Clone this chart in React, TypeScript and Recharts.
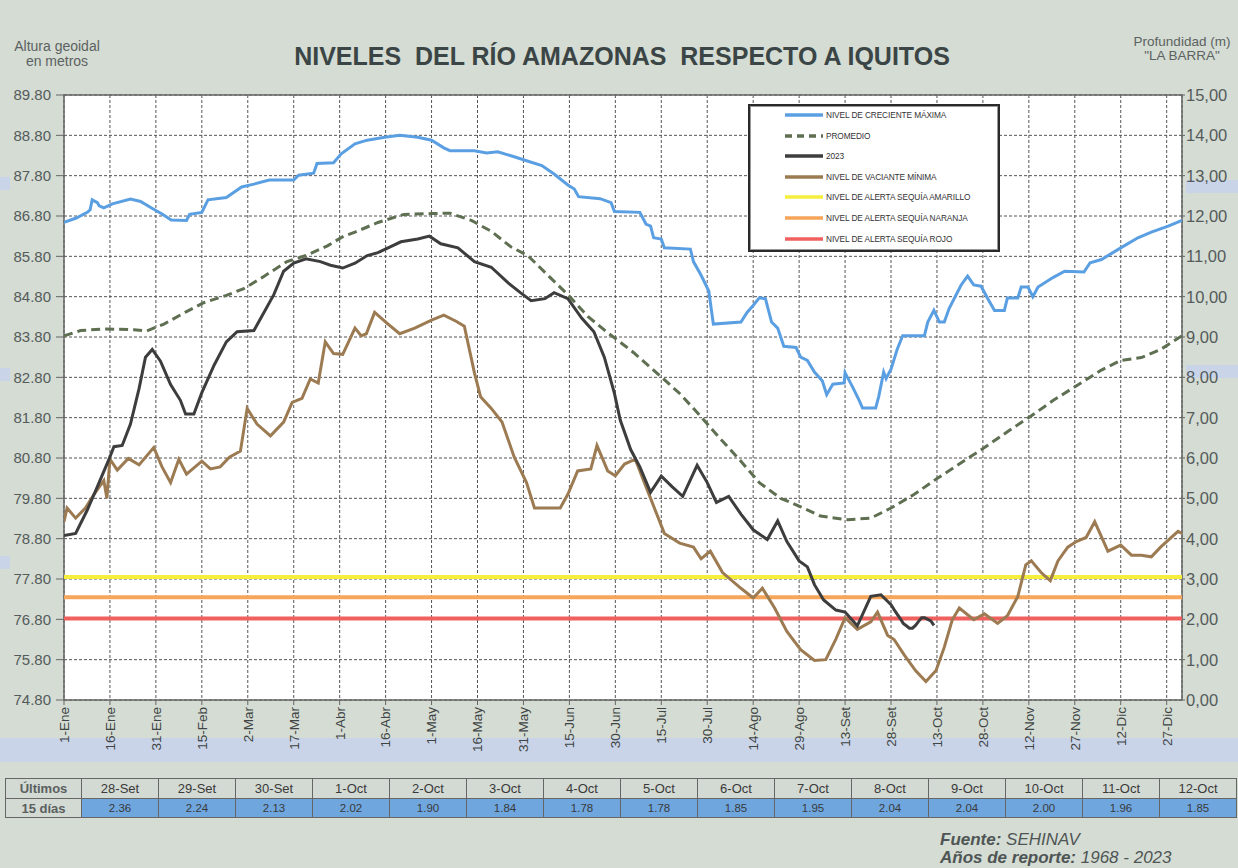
import React from 'react';
import { LineChart, Line, XAxis, YAxis, CartesianGrid, ReferenceLine, ReferenceArea, Legend } from 'recharts';

const FONT = '"Liberation Sans", Arial, Helvetica, sans-serif';

// ---------- axis ticks ----------
const xTickDays = [0, 15, 30, 45, 60, 75, 90, 105, 120, 135, 150, 165, 180, 195, 210, 225, 240, 255, 270, 285, 300, 315, 330, 345, 360];
const xTickLabels = ['1-Ene', '16-Ene', '31-Ene', '15-Feb', '2-Mar', '17-Mar', '1-Abr', '16-Abr', '1-May', '16-May', '31-May', '15-Jun', '30-Jun', '15-Jul', '30-Jul', '14-Ago', '29-Ago', '13-Set', '28-Set', '13-Oct', '28-Oct', '12-Nov', '27-Nov', '12-Dic', '27-Dic'];
const leftTicks = [74.8, 75.8, 76.8, 77.8, 78.8, 79.8, 80.8, 81.8, 82.8, 83.8, 84.8, 85.8, 86.8, 87.8, 88.8, 89.8];
const rightTicks = [0, 1, 2, 3, 4, 5, 6, 7, 8, 9, 10, 11, 12, 13, 14, 15];

// ---------- series (day of year, level in m) ----------
const crecienteMaxima: [number, number][] = [
  [0, 86.64], [4, 86.75], [7.6, 86.89], [8.5, 86.95], [9.2, 87.2], [10.9, 87.13], [11.5, 87.05], [13, 87.0], [15.8, 87.1],
  [21.7, 87.22], [25, 87.16], [29, 86.98], [32, 86.85], [35, 86.7], [40, 86.69], [41, 86.84], [45, 86.89], [47, 87.2],
  [53, 87.26], [58, 87.52], [62, 87.59], [67, 87.69], [75, 87.69], [76.6, 87.81], [81.5, 87.86], [82.6, 88.1], [88, 88.12],
  [90.5, 88.34], [95, 88.59], [99, 88.68], [104.7, 88.75], [109.6, 88.8], [115.5, 88.75], [120, 88.68], [124, 88.49],
  [126, 88.42], [134, 88.42], [138, 88.36], [141.6, 88.39], [147, 88.27], [151, 88.17], [156, 88.05], [160, 87.84],
  [164.5, 87.57], [166.6, 87.47], [168, 87.28], [175, 87.23], [178.6, 87.13], [179.7, 86.91], [188, 86.89], [190, 86.6],
  [191.5, 86.55], [192.5, 86.26], [195, 86.23], [196, 86.01], [204.5, 85.98], [205.5, 85.67], [208, 85.33], [210.5, 84.94],
  [212, 84.12], [221, 84.17], [223, 84.41], [225, 84.58], [227, 84.77], [229, 84.75], [231, 84.17], [233, 84.02],
  [235, 83.57], [239, 83.54], [240.5, 83.3], [242.7, 83.22], [245, 82.93], [247.6, 82.71], [249, 82.37], [251, 82.63],
  [254.7, 82.66], [255, 82.91], [257.4, 82.57], [259.6, 82.23], [260.7, 82.04], [265, 82.04], [266, 82.33], [267.6, 82.93],
  [268.4, 82.77], [270, 83.0], [272, 83.49], [273.8, 83.83], [280.9, 83.83], [282, 84.17], [284, 84.46], [285.8, 84.17],
  [287.4, 84.17], [289, 84.51], [292.9, 85.09], [295, 85.31], [297, 85.09], [299.4, 85.06], [301.6, 84.75], [303.8, 84.46],
  [307, 84.46], [308, 84.77], [311.4, 84.77], [312.5, 85.04], [314.7, 85.04], [316.3, 84.8], [318, 85.04], [323, 85.28],
  [326.7, 85.43], [333, 85.41], [335, 85.64], [338.7, 85.72], [345, 86.01], [350.6, 86.26], [355, 86.4], [360.5, 86.55],
  [365, 86.69],
];

const promedio: [number, number][] = [
  [0, 83.83], [5.4, 83.96], [13, 84.0], [22.8, 83.98], [27, 83.95], [32.6, 84.12], [40, 84.43], [45.6, 84.65], [53, 84.83],
  [58.7, 85.0], [65, 85.29], [72.8, 85.67], [79, 85.82], [86, 86.06], [91.3, 86.3], [95, 86.4], [102.5, 86.64], [111, 86.84],
  [120, 86.86], [126, 86.87], [133, 86.69], [139.5, 86.42], [146, 86.03], [151.4, 85.82], [158, 85.33], [164.5, 84.85],
  [171, 84.31], [177.6, 83.9], [183, 83.59], [186, 83.41], [194.7, 82.83], [201, 82.4], [207.8, 81.84], [214, 81.3],
  [221, 80.72], [227, 80.19], [234, 79.8], [240.5, 79.59], [247, 79.36], [255.8, 79.27], [263.4, 79.31], [270, 79.56],
  [277.6, 79.9], [285, 80.29], [292.9, 80.68], [300.5, 81.06], [308, 81.45], [315.7, 81.84], [323, 82.23], [332, 82.66],
  [338.7, 82.98], [345, 83.22], [351.7, 83.29], [358, 83.49], [365, 83.83],
];

const nivel2023: [number, number][] = [
  [0, 78.88], [3.8, 78.93], [7.6, 79.51], [10.9, 80.09], [14.7, 80.77], [16.3, 81.08], [19, 81.11], [21.7, 81.64],
  [24.5, 82.52], [26.6, 83.3], [28.8, 83.49], [31.5, 83.2], [34.8, 82.62], [38, 82.23], [39.7, 81.89], [42.4, 81.89],
  [45, 82.42], [49, 83.1], [53, 83.68], [56.5, 83.93], [62, 83.96], [65, 84.37], [68.5, 84.85], [71.7, 85.43], [75, 85.63],
  [79, 85.74], [83.7, 85.67], [87, 85.58], [91, 85.51], [95, 85.63], [99, 85.82], [102.5, 85.89], [105.8, 86.01],
  [110, 86.16], [115.5, 86.23], [119.3, 86.3], [123, 86.11], [128.6, 86.01], [134, 85.67], [139.5, 85.53], [145, 85.14],
  [149, 84.9], [152.5, 84.7], [157, 84.75], [160, 84.9], [164.5, 84.75], [169, 84.27], [173, 83.93], [176.4, 83.3],
  [179.7, 82.4], [181.6, 81.74], [185, 81.01], [188, 80.58], [191.5, 79.95], [195, 80.35], [198.5, 80.09], [202, 79.85],
  [206.7, 80.62], [210, 80.19], [213, 79.7], [217, 79.85], [221, 79.41], [225, 79.02], [229.6, 78.78], [233, 79.24],
  [236, 78.73], [240, 78.25], [242.7, 78.1], [245, 77.66], [248, 77.28], [252, 77.03], [255, 76.98], [259, 76.64],
  [263.4, 77.37], [266.7, 77.41], [270, 77.16], [271, 77.04], [272, 76.93], [273, 76.82], [274, 76.7], [275, 76.64],
  [276, 76.58], [277, 76.58], [278, 76.65], [279, 76.75], [280, 76.84], [281, 76.84], [282, 76.8], [283, 76.76], [284, 76.65],
];

const vacianteMinima: [number, number][] = [
  [0, 79.22], [1, 79.56], [3.8, 79.31], [7, 79.56], [9.8, 79.9], [13, 80.24], [14, 79.8], [15, 80.77], [17.4, 80.5],
  [21, 80.79], [24.5, 80.63], [29.3, 81.06], [32, 80.58], [34.8, 80.19], [37.5, 80.77], [40, 80.4], [45, 80.72],
  [47.8, 80.53], [51, 80.58], [54, 80.82], [57.6, 80.97], [59.8, 82.03], [63, 81.64], [67.4, 81.35], [71.7, 81.69],
  [74.5, 82.18], [77.7, 82.28], [80.4, 82.76], [83, 82.66], [85.3, 83.68], [88, 83.39], [91, 83.37], [95, 84.02],
  [97, 83.83], [98.7, 83.88], [101.4, 84.41], [105.8, 84.12], [109.6, 83.88], [114.5, 84.02], [120, 84.22], [124, 84.34],
  [128, 84.19], [130.7, 84.07], [134, 82.91], [136, 82.32], [139.5, 82.03], [143, 81.69], [147, 80.82], [151, 80.19],
  [153.6, 79.56], [162, 79.56], [164.5, 79.9], [167.7, 80.48], [172, 80.53], [174, 81.11], [177.5, 80.48], [180, 80.36],
  [183, 80.65], [186.5, 80.77], [190, 80.09], [196, 78.93], [201, 78.69], [205.5, 78.59], [208, 78.3], [211, 78.49],
  [215, 77.96], [221, 77.57], [225, 77.33], [228, 77.57], [232, 77.08], [236, 76.5], [240.5, 76.05], [245, 75.78],
  [248.7, 75.8], [252, 76.31], [255, 76.84], [259, 76.55], [263.4, 76.74], [265.6, 76.98], [268.9, 76.4], [271, 76.3],
  [274.3, 75.92], [278, 75.53], [281.4, 75.26], [284.7, 75.53], [287.4, 76.11], [290, 76.79], [292.3, 77.08], [297, 76.79],
  [300.5, 76.94], [304.8, 76.7], [308, 76.89], [311.4, 77.37], [314, 78.15], [315.8, 78.25], [319, 77.96], [322, 77.76],
  [324.5, 78.25], [327.7, 78.59], [330.5, 78.73], [333.7, 78.83], [336.5, 79.22], [340.8, 78.49], [345, 78.64],
  [348.5, 78.39], [351.7, 78.39], [355, 78.35], [358, 78.59], [363.7, 78.98], [365, 78.93],
];

// alert levels (m)
const alertLevels = [77.85, 77.35, 76.82];
const alertColors = ['#f5ee3c', '#f6a65a', '#f0605e'];

// legend
const legendNames = ['NIVEL DE CRECIENTE MÁXIMA', 'PROMEDIO', '2023', 'NIVEL DE VACIANTE MÍNIMA', 'NIVEL DE ALERTA SEQUÍA AMARILLO', 'NIVEL DE ALERTA SEQUÍA NARANJA', 'NIVEL DE ALERTA SEQUÍA ROJO'];
const legendColors = ['#5b9fe3', '#5f6f52', '#3d3d3d', '#9c7b52', '#f5ee3c', '#f6a65a', '#f0605e'];

// table of last 15 days
const lastDates = ['28-Set', '29-Set', '30-Set', '1-Oct', '2-Oct', '3-Oct', '4-Oct', '5-Oct', '6-Oct', '7-Oct', '8-Oct', '9-Oct', '10-Oct', '11-Oct', '12-Oct'];
const lastDepths = ['2.36', '2.24', '2.13', '2.02', '1.90', '1.84', '1.78', '1.78', '1.85', '1.95', '2.04', '2.04', '2.00', '1.96', '1.85'];

const toPoints = (arr: [number, number][]) => arr.map(([d, v]) => ({ d, v }));

const XTick = (props: any) => {
  const { x, y, payload } = props;
  const idx = xTickDays.indexOf(payload.value);
  return (
    <text x={x} y={y} transform={`rotate(-90 ${x} ${y})`} textAnchor="end" dy="0.36em" fontSize={13.5} fill="#3f4444" fontFamily={FONT}>
      {idx >= 0 ? xTickLabels[idx] : ''}
    </text>
  );
};

const LegendBox = () => (
  <div style={{ width: 252, height: 148, boxSizing: 'border-box', border: '2px solid #2a2a2a', boxShadow: 'inset 0 0 0 1px #999', background: '#fff', position: 'relative', fontFamily: FONT }}>
    {legendNames.map((n, i) => (
      <div key={n} style={{ position: 'absolute', left: 35, top: 9 + i * 20.6 - 6, height: 12, display: 'flex', alignItems: 'center', whiteSpace: 'nowrap' }}>
        <svg width={38} height={8} style={{ display: 'block' }}>
          <line x1={0} y1={4} x2={38} y2={4} stroke={legendColors[i]} strokeWidth={3.5} strokeDasharray={i === 1 ? '7 5' : undefined} />
        </svg>
        <span style={{ fontSize: 8.3, color: '#333', marginLeft: 3, letterSpacing: -0.1 }}>{n}</span>
      </div>
    ))}
  </div>
);

const thStyle: React.CSSProperties = { border: '1px solid #666', textAlign: 'center', fontSize: 13, color: '#3a3a3a', padding: 0, height: 19, background: '#d3d9d3' };
const tdStyle: React.CSSProperties = { border: '1px solid #666', textAlign: 'center', fontSize: 11.5, color: '#3a3a3a', padding: 0, height: 18, background: '#6fa6de' };

export default function App() {
  return (
    <div style={{ position: 'absolute', left: 0, top: 0, width: 1238, height: 868, background: '#d4dcd3', overflow: 'hidden', fontFamily: FONT }}>
      {/* scan bands */}
      <div style={{ position: 'absolute', left: 0, top: 738, width: 1238, height: 24, background: '#c9d4e9' }} />
      <div style={{ position: 'absolute', left: 1186, top: 180, width: 52, height: 13, background: '#c9d4e9' }} />
      <div style={{ position: 'absolute', left: 1186, top: 365, width: 52, height: 13, background: '#c9d4e9' }} />
      <div style={{ position: 'absolute', left: 0, top: 177, width: 10, height: 13, background: '#c9d4e9' }} />
      <div style={{ position: 'absolute', left: 0, top: 368, width: 10, height: 13, background: '#c9d4e9' }} />
      <div style={{ position: 'absolute', left: 0, top: 556, width: 10, height: 13, background: '#c9d4e9' }} />

      {/* headers */}
      <div style={{ position: 'absolute', left: 0, width: 114, top: 39, fontSize: 14, lineHeight: '15px', color: '#5c6262', textAlign: 'center' }}>
        Altura geoidal<br />en metros
      </div>
      <div style={{ position: 'absolute', left: 1124, width: 116, top: 35, fontSize: 13.5, lineHeight: '14px', color: '#5c6262', textAlign: 'center' }}>
        Profundidad (m)<br />"LA BARRA"
      </div>
      <div style={{ position: 'absolute', left: 0, width: 1244, top: 44, fontSize: 25, fontWeight: 'bold', color: '#3b4545', textAlign: 'center', whiteSpace: 'pre', lineHeight: '25px' }}>
        {'NIVELES  DEL RÍO AMAZONAS  RESPECTO A IQUITOS'}
      </div>

      <div style={{ position: 'absolute', left: 0, top: 0 }}>
        <LineChart width={1238} height={770} margin={{ top: 95, right: 1, bottom: 0, left: 9 }}>
          <CartesianGrid fill="#ffffff" stroke="#555" strokeDasharray="3 2" strokeWidth={1} />
          <XAxis
            dataKey="d"
            type="number"
            domain={[0, 365]}
            ticks={xTickDays}
            interval={0}
            height={70}
            axisLine={false}
            tickLine={{ stroke: '#666' }}
            tickSize={5}
            tickMargin={2}
            tick={<XTick />}
            allowDataOverflow
          />
          <YAxis
            type="number"
            domain={[74.8, 89.8]}
            ticks={leftTicks}
            interval={0}
            width={55}
            axisLine={false}
            tickLine={{ stroke: '#666' }}
            tickSize={8}
            tickMargin={5}
            tickFormatter={(v: number) => v.toFixed(2)}
            tick={{ fontSize: 15, fill: '#555b5b', fontFamily: FONT }}
            allowDataOverflow
          />
          <YAxis
            yAxisId="right"
            orientation="right"
            type="number"
            domain={[0, 15]}
            ticks={rightTicks}
            interval={0}
            width={55}
            axisLine={false}
            tickLine={{ stroke: '#666' }}
            tickSize={3}
            tickMargin={1}
            tickFormatter={(v: number) => v.toFixed(2).replace('.', ',')}
            tick={{ fontSize: 16.5, fill: '#555b5b', fontFamily: FONT }}
            allowDataOverflow
          />
          <ReferenceArea x1={0} x2={365} y1={74.8} y2={89.8} fill="none" fillOpacity={0} stroke="#666" strokeWidth={1.5} />
          {alertLevels.map((lv, i) => (
            <ReferenceLine key={lv} y={lv} stroke={alertColors[i]} strokeWidth={4} />
          ))}
          <Line data={toPoints(crecienteMaxima)} dataKey="v" name={legendNames[0]} stroke={legendColors[0]} strokeWidth={3} dot={false} isAnimationActive={false} />
          <Line data={toPoints(promedio)} dataKey="v" name={legendNames[1]} stroke={legendColors[1]} strokeWidth={3} strokeDasharray="9 5" dot={false} isAnimationActive={false} />
          <Line data={toPoints(vacianteMinima)} dataKey="v" name={legendNames[3]} stroke={legendColors[3]} strokeWidth={3} dot={false} isAnimationActive={false} />
          <Line data={toPoints(nivel2023)} dataKey="v" name={legendNames[2]} stroke={legendColors[2]} strokeWidth={3} dot={false} isAnimationActive={false} />
          <Legend
            layout="vertical"
            align="center"
            verticalAlign="middle"
            content={<LegendBox />}
            wrapperStyle={{ position: 'absolute', left: 748, top: 104, width: 252, height: 148 }}
          />
        </LineChart>
      </div>

      {/* last 15 days table */}
      <table style={{ position: 'absolute', left: 5, top: 778, width: 1231, borderCollapse: 'collapse', tableLayout: 'fixed', fontFamily: FONT }}>
        <colgroup>
          <col style={{ width: 76 }} />
          {lastDates.map((d) => <col key={d} style={{ width: 77 }} />)}
        </colgroup>
        <tbody>
          <tr>
            <td style={{ ...thStyle, fontWeight: 'bold', color: '#5a5f5f' }}>Últimos</td>
            {lastDates.map((d) => <td key={d} style={thStyle}>{d}</td>)}
          </tr>
          <tr>
            <td style={{ ...tdStyle, background: '#d3d9d3', fontWeight: 'bold', fontSize: 13, color: '#5a5f5f' }}>15 días</td>
            {lastDepths.map((v, i) => <td key={i} style={tdStyle}>{v}</td>)}
          </tr>
        </tbody>
      </table>

      {/* footer */}
      <div style={{ position: 'absolute', left: 940, top: 831, fontSize: 17, lineHeight: '18px', color: '#4f5555', fontStyle: 'italic', whiteSpace: 'nowrap' }}>
        <b>Fuente:</b> SEHINAV<br />
        <b>Años de reporte:</b> 1968 - 2023
      </div>
    </div>
  );
}
